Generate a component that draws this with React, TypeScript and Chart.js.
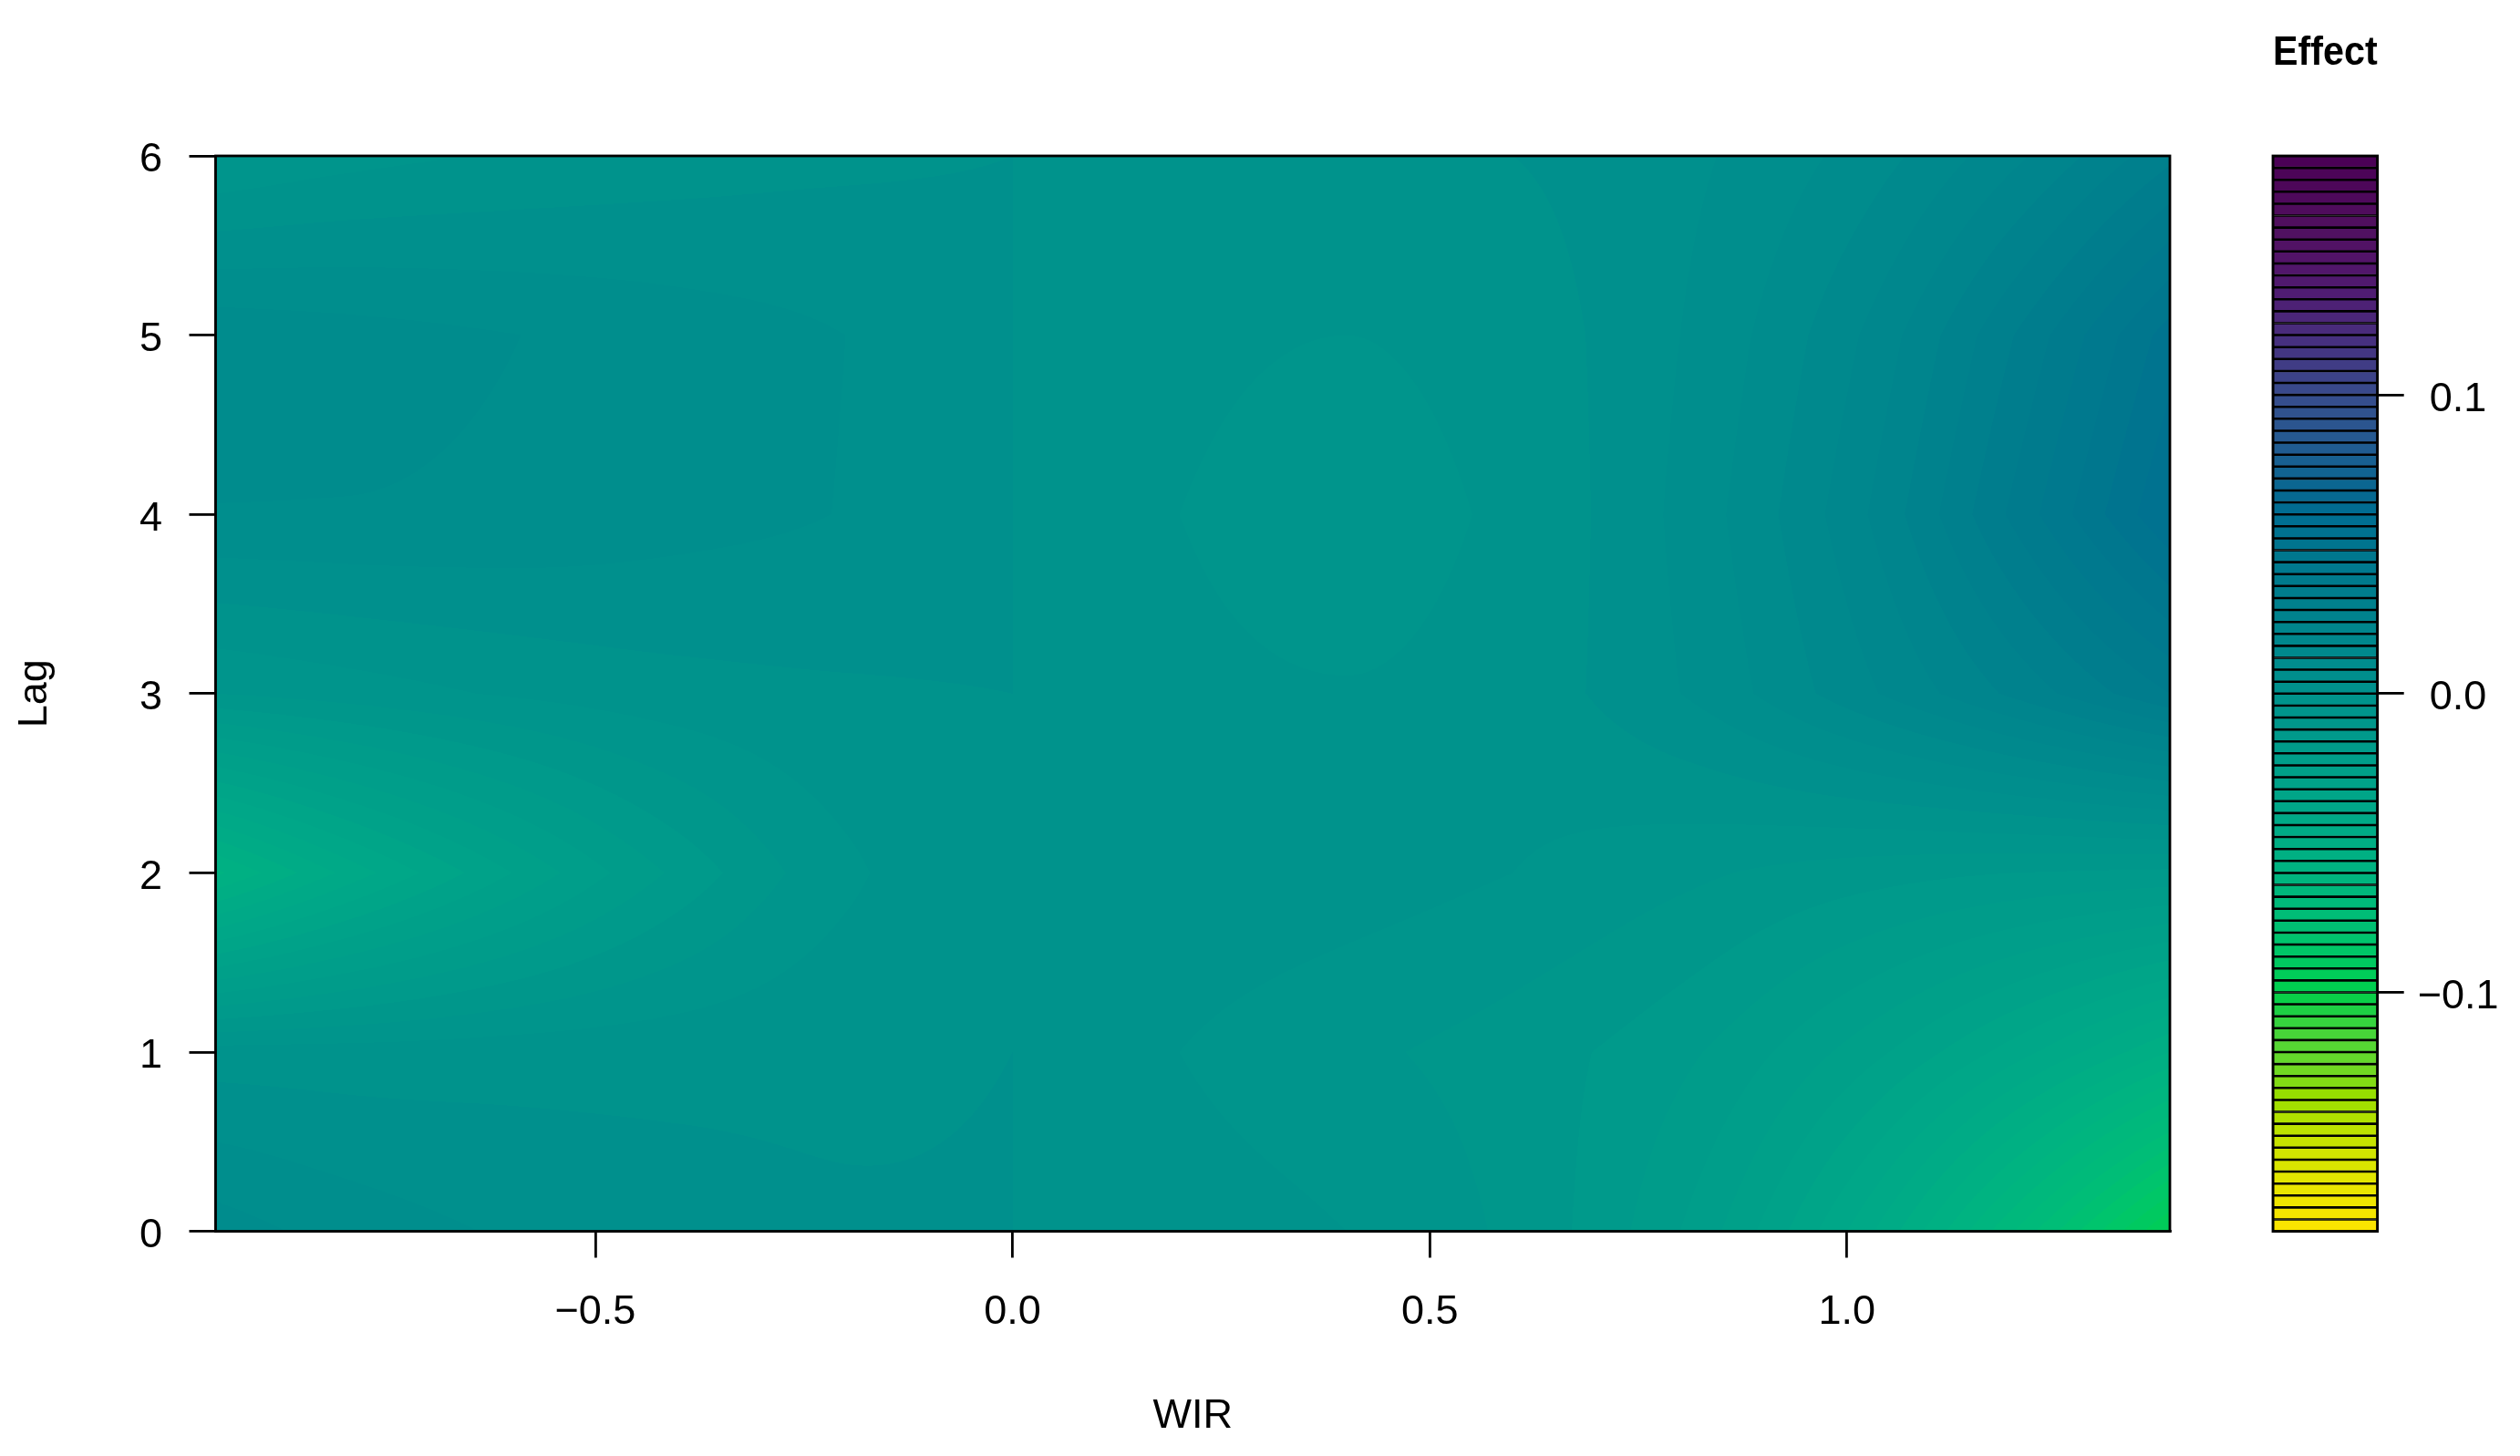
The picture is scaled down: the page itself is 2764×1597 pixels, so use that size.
import React, { useEffect, useRef } from "react";
import { Chart, registerables } from "chart.js";

Chart.register(...registerables);

// ---------------- data ----------------
// WIR values at which the lag-specific effects were read
const WIR_GRID = [-0.955, -0.8, -0.6, -0.4, -0.2, 0, 0.2, 0.4, 0.6, 0.8, 1.0, 1.2, 1.387];
const LAGS = [0, 1, 2, 3, 4, 5, 6];

// effect estimates, one list per lag, aligned with WIR_GRID
const EFFECT_LAG0 = [0.010, 0.0065, 0.0035, 0.0015, 0.0003, 0, -0.002, -0.004, -0.009, -0.020, -0.040, -0.068, -0.097];
const EFFECT_LAG1 = [-0.002, -0.002, -0.0015, -0.001, -0.0005, 0, -0.004, -0.007, -0.010, -0.015, -0.025, -0.038, -0.052];
const EFFECT_LAG2 = [-0.057, -0.043, -0.028, -0.015, -0.005, 0, -0.001, -0.002, -0.004, -0.007, -0.010, -0.012, -0.013];
const EFFECT_LAG3 = [-0.008, -0.006, -0.0035, -0.0015, -0.0005, 0, -0.003, -0.0038, -0.002, 0.004, 0.014, 0.025, 0.036];
const EFFECT_LAG4 = [0.0078, 0.0078, 0.0072, 0.0056, 0.0038, 0, -0.004, -0.0058, -0.003, 0.005, 0.018, 0.037, 0.056];
const EFFECT_LAG5 = [0.011, 0.0098, 0.0081, 0.0062, 0.0040, 0, -0.003, -0.004, -0.002, 0.004, 0.015, 0.032, 0.050];
const EFFECT_LAG6 = [-0.008, -0.0055, -0.0035, -0.002, -0.0008, 0, -0.001, -0.001, 0.0, 0.003, 0.009, 0.019, 0.031];
const EFFECT_BY_LAG = [EFFECT_LAG0, EFFECT_LAG1, EFFECT_LAG2, EFFECT_LAG3, EFFECT_LAG4, EFFECT_LAG5, EFFECT_LAG6];

// axes
const WIR_MIN = -0.955;
const WIR_MAX = 1.387;
const LAG_MIN = 0;
const LAG_MAX = 6;
const X_TICKS = [-0.5, 0, 0.5, 1.0];
const X_TICK_LABELS = ["\u22120.5", "0.0", "0.5", "1.0"];
const Y_TICKS = [0, 1, 2, 3, 4, 5, 6];
const Y_TICK_LABELS = ["0", "1", "2", "3", "4", "5", "6"];

// colour key
const LEVEL_MIN = -0.18;
const LEVEL_MAX = 0.18;
const LEVEL_STEP = 0.004;
const KEY_TICKS = [-0.1, 0, 0.1];
const KEY_TICK_LABELS = ["\u22120.1", "0.0", "0.1"];

// ---------------- style ----------------
const FONT = "'Liberation Sans', Arial, Helvetica, sans-serif";
const LW = 2.8;
// palette stops: [effect value, r, g, b]
const PALETTE_STOPS: number[][] = [
  [-0.178, 250, 228, 0],
  [-0.164, 230, 230, 0],
  [-0.152, 205, 228, 0],
  [-0.143, 180, 225, 0],
  [-0.134, 150, 222, 0],
  [-0.128, 120, 218, 30],
  [-0.119, 90, 215, 50],
  [-0.111, 60, 212, 60],
  [-0.106, 30, 208, 68],
  [-0.1, 0, 207, 74],
  [-0.096, 0, 205, 85],
  [-0.085, 0, 198, 105],
  [-0.073, 0, 188, 120],
  [-0.06, 0, 180, 128],
  [-0.044, 0, 170, 135],
  [-0.02, 0, 157, 138],
  [-0.002, 0, 147, 140],
  [0.002, 0, 144, 141],
  [0.02, 0, 134, 141],
  [0.038, 0, 123, 141],
  [0.049, 0, 117, 143],
  [0.061, 0, 109, 145],
  [0.073, 15, 100, 145],
  [0.085, 37, 90, 145],
  [0.1, 55, 76, 140],
  [0.111, 65, 58, 132],
  [0.12, 72, 45, 125],
  [0.132, 78, 30, 115],
  [0.144, 82, 20, 106],
  [0.156, 80, 16, 95],
  [0.18, 75, 0, 85],
];

function paletteAt(v: number): number[] {
  const s = PALETTE_STOPS;
  if (v <= s[0][0]) return [s[0][1], s[0][2], s[0][3]];
  if (v >= s[s.length - 1][0]) {
    const l = s[s.length - 1];
    return [l[1], l[2], l[3]];
  }
  for (let i = 0; i < s.length - 1; i++) {
    const a = s[i], b = s[i + 1];
    if (v >= a[0] && v <= b[0]) {
      const t = (v - a[0]) / (b[0] - a[0]);
      return [
        Math.round(a[1] + (b[1] - a[1]) * t),
        Math.round(a[2] + (b[2] - a[2]) * t),
        Math.round(a[3] + (b[3] - a[3]) * t),
      ];
    }
  }
  return [0, 0, 0];
}

const N_LEVELS = Math.round((LEVEL_MAX - LEVEL_MIN) / LEVEL_STEP);
const LEVEL_RGB: number[][] = [];
for (let i = 0; i < N_LEVELS; i++) {
  LEVEL_RGB.push(paletteAt(LEVEL_MIN + LEVEL_STEP * (i + 0.5)));
}
const LEVEL_CSS = LEVEL_RGB.map((c) => `rgb(${c[0]},${c[1]},${c[2]})`);

// monotone cubic (Fritsch-Carlson) along WIR for one lag row
function monotone(xs: number[], ys: number[]) {
  const n = xs.length;
  const h: number[] = [];
  const d: number[] = [];
  for (let i = 0; i < n - 1; i++) {
    h.push(xs[i + 1] - xs[i]);
    d.push((ys[i + 1] - ys[i]) / (xs[i + 1] - xs[i]));
  }
  const m: number[] = new Array(n).fill(0);
  m[0] = d[0];
  m[n - 1] = d[n - 2];
  for (let i = 1; i < n - 1; i++) {
    if (d[i - 1] * d[i] <= 0) m[i] = 0;
    else {
      const w1 = 2 * h[i] + h[i - 1];
      const w2 = h[i] + 2 * h[i - 1];
      m[i] = (w1 + w2) / (w1 / d[i - 1] + w2 / d[i]);
    }
  }
  return (x: number) => {
    let i = 0;
    while (i < n - 2 && x > xs[i + 1]) i++;
    const hh = h[i];
    const t = Math.min(1, Math.max(0, (x - xs[i]) / hh));
    const t2 = t * t, t3 = t2 * t;
    return (
      (2 * t3 - 3 * t2 + 1) * ys[i] +
      (t3 - 2 * t2 + t) * hh * m[i] +
      (-2 * t3 + 3 * t2) * ys[i + 1] +
      (t3 - t2) * hh * m[i + 1]
    );
  };
}

const contourPlugin = {
  id: "contourFill",
  beforeDraw(chart: any) {
    const { ctx, width, height } = chart;
    ctx.save();
    ctx.fillStyle = "#ffffff";
    ctx.fillRect(0, 0, width, height);
    ctx.restore();
  },
  beforeDatasetsDraw(chart: any) {
    const { ctx, chartArea, scales } = chart;
    const xs = scales.x, ys = scales.y;
    const x0 = Math.floor(chartArea.left), x1 = Math.ceil(chartArea.right);
    const y0 = Math.floor(chartArea.top), y1 = Math.ceil(chartArea.bottom);
    const w = x1 - x0, h = y1 - y0;
    const img = ctx.createImageData(w, h);
    const data = img.data;
    const interps = EFFECT_BY_LAG.map((row) => monotone(WIR_GRID, row));
    const nl = LAGS.length;
    const colVals = new Float64Array(w * nl);
    for (let c = 0; c < w; c++) {
      let xv = xs.getValueForPixel(x0 + c + 0.5);
      xv = Math.min(WIR_MAX, Math.max(WIR_MIN, xv));
      for (let k = 0; k < nl; k++) colVals[c * nl + k] = interps[k](xv);
    }
    for (let r = 0; r < h; r++) {
      let lag = ys.getValueForPixel(y0 + r + 0.5);
      lag = Math.min(LAG_MAX, Math.max(LAG_MIN, lag));
      let k = 0;
      while (k < nl - 2 && lag > LAGS[k + 1]) k++;
      const t = (lag - LAGS[k]) / (LAGS[k + 1] - LAGS[k]);
      for (let c = 0; c < w; c++) {
        const v = colVals[c * nl + k] * (1 - t) + colVals[c * nl + k + 1] * t;
        let idx = Math.floor((v - LEVEL_MIN) / LEVEL_STEP + 1e-9);
        idx = Math.min(N_LEVELS - 1, Math.max(0, idx));
        const col = LEVEL_RGB[idx];
        const p = (r * w + c) * 4;
        data[p] = col[0];
        data[p + 1] = col[1];
        data[p + 2] = col[2];
        data[p + 3] = 255;
      }
    }
    ctx.putImageData(img, x0, y0);
  },
  afterDraw(chart: any) {
    const { ctx, chartArea } = chart;
    ctx.save();
    ctx.strokeStyle = "#000";
    ctx.lineWidth = LW;
    ctx.strokeRect(chartArea.left, chartArea.top, chartArea.right - chartArea.left, chartArea.bottom - chartArea.top);
    ctx.restore();
  },
};

const keyBoxPlugin = {
  id: "keyBox",
  afterDraw(chart: any) {
    const { ctx, chartArea } = chart;
    ctx.save();
    ctx.strokeStyle = "#000";
    ctx.lineWidth = LW;
    ctx.strokeRect(chartArea.left, chartArea.top, chartArea.right - chartArea.left, chartArea.bottom - chartArea.top);
    ctx.restore();
  },
};

function labelFor(ticks: number[], labels: string[], v: number) {
  for (let i = 0; i < ticks.length; i++) if (Math.abs(ticks[i] - v) < 1e-9) return labels[i];
  return "";
}

const W = 2764;
const H = 1597;
const KEY_AXIS_W = 150;

export default function App() {
  const mainRef = useRef<HTMLCanvasElement>(null);
  const keyRef = useRef<HTMLCanvasElement>(null);

  useEffect(() => {
    document.body.style.margin = "0";
    Chart.defaults.font.family = FONT;
    Chart.defaults.color = "#000";

    const axisGrid = {
      display: true,
      drawOnChartArea: false,
      drawTicks: true,
      tickLength: 29,
      tickWidth: LW,
      tickColor: "#000",
      color: "#000",
      lineWidth: LW,
    };

    const main = new Chart(mainRef.current as HTMLCanvasElement, {
      type: "scatter",
      data: { datasets: [{ data: [], pointRadius: 0 }] },
      options: {
        responsive: false,
        devicePixelRatio: 1,
        animation: false,
        events: [],
        layout: { padding: { left: 0, top: 171, right: W - 2380, bottom: 0 } },
        plugins: { legend: { display: false }, tooltip: { enabled: false } },
        scales: {
          x: {
            type: "linear",
            min: WIR_MIN,
            max: WIR_MAX,
            afterBuildTicks: (scale: any) => {
              scale.ticks = X_TICKS.map((v) => ({ value: v }));
            },
            afterFit: (scale: any) => {
              scale.height = 246.5;
            },
            ticks: {
              autoSkip: false,
              maxRotation: 0,
              padding: 33,
              font: { size: 45, family: FONT },
              color: "#000",
              callback: (v: any) => labelFor(X_TICKS, X_TICK_LABELS, Number(v)),
            },
            grid: axisGrid,
            border: { display: true, color: "#000", width: LW },
            title: {
              display: true,
              text: "WIR",
              color: "#000",
              font: { size: 45, family: FONT },
              padding: { top: 0, bottom: 16 },
            },
          },
          y: {
            type: "linear",
            min: LAG_MIN,
            max: LAG_MAX,
            afterBuildTicks: (scale: any) => {
              scale.ticks = Y_TICKS.map((v) => ({ value: v }));
            },
            afterFit: (scale: any) => {
              scale.width = 236.5;
            },
            ticks: {
              autoSkip: false,
              padding: 29.5,
              labelOffset: 5,
              font: { size: 45, family: FONT },
              color: "#000",
              callback: (v: any) => labelFor(Y_TICKS, Y_TICK_LABELS, Number(v)),
            },
            grid: axisGrid,
            border: { display: true, color: "#000", width: LW },
            title: {
              display: true,
              text: "Lag",
              color: "#000",
              font: { size: 45, family: FONT },
              padding: { top: 12, bottom: 0 },
            },
          },
        },
      },
      plugins: [contourPlugin],
    } as any);

    const levelRanges: number[][] = [];
    for (let i = 0; i < N_LEVELS; i++) {
      let lo = Math.round((LEVEL_MIN + i * LEVEL_STEP) * 1e6) / 1e6;
      let hi = Math.round((LEVEL_MIN + (i + 1) * LEVEL_STEP) * 1e6) / 1e6;
      if (lo === 0) lo = 1e-9;
      if (hi === 0) hi = -1e-9;
      levelRanges.push([lo, hi]);
    }

    const key = new Chart(keyRef.current as HTMLCanvasElement, {
      type: "bar",
      data: {
        labels: [""],
        datasets: levelRanges.map((r, i) => ({
          data: [r],
          backgroundColor: LEVEL_CSS[i],
          borderColor: "#000",
          borderWidth: 1.6,
          borderSkipped: false,
          grouped: false,
          barPercentage: 1,
          categoryPercentage: 1,
        })),
      },
      options: {
        responsive: false,
        devicePixelRatio: 1,
        animation: false,
        events: [],
        layout: { padding: { left: 2493, top: 0, right: W - 2607.7 - KEY_AXIS_W, bottom: H - 1350.6 } },
        plugins: {
          legend: { display: false },
          tooltip: { enabled: false },
          title: {
            display: true,
            text: "Effect",
            fullSize: false,
            color: "#000",
            font: { size: 45, weight: "bold", family: FONT },
            padding: { top: 31.5, bottom: 85.5 },
          },
        },
        scales: {
          x: { display: false },
          y: {
            position: "right",
            min: LEVEL_MIN,
            max: LEVEL_MAX,
            afterBuildTicks: (scale: any) => {
              scale.ticks = KEY_TICKS.map((v) => ({ value: v }));
            },
            afterFit: (scale: any) => {
              scale.width = KEY_AXIS_W;
            },
            ticks: {
              autoSkip: false,
              crossAlign: "center",
              padding: 15,
              labelOffset: 5,
              font: { size: 45, family: FONT },
              color: "#000",
              callback: (v: any) => labelFor(KEY_TICKS, KEY_TICK_LABELS, Number(v)),
            },
            grid: axisGrid,
            border: { display: false },
          },
        },
      },
      plugins: [keyBoxPlugin],
    } as any);

    return () => {
      main.destroy();
      key.destroy();
    };
  }, []);

  return (
    <div style={{ position: "fixed", left: 0, top: 0, width: W, height: H, background: "#fff", overflow: "hidden" }}>
      <canvas ref={mainRef} width={W} height={H} style={{ position: "absolute", left: 0, top: 0, width: W, height: H }} />
      <canvas
        ref={keyRef}
        width={W}
        height={H}
        style={{ position: "absolute", left: 0, top: 0, width: W, height: H, pointerEvents: "none" }}
      />
    </div>
  );
}
